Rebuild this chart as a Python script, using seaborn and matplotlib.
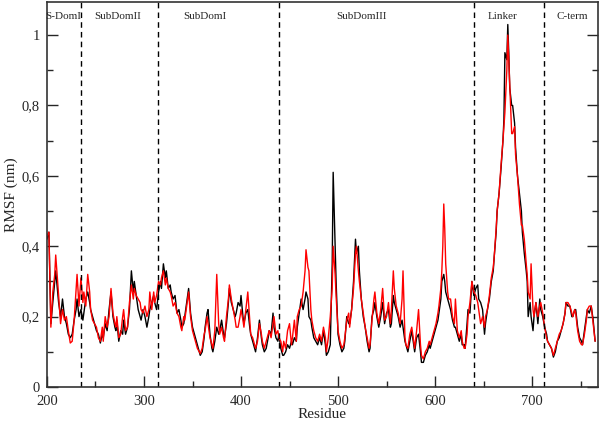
import numpy as np
import pandas as pd
import seaborn as sns
import matplotlib.pyplot as plt
from matplotlib.ticker import MultipleLocator

# --------------------------------------------------------------
# Data (residue, RMSF of both runs in nm)
# --------------------------------------------------------------
residue = [
    200, 202, 204, 206, 208, 209, 211, 212, 214, 216, 218, 220, 222, 224, 226, 228, 230, 231, 233, 235,
    237, 238, 240, 242, 244, 245, 247, 249, 251, 253, 255, 257, 258, 260, 262, 264, 266, 268, 270, 271,
    272, 274, 276, 278, 279, 281, 283, 285, 287, 289, 290, 292, 294, 296, 297, 299, 301, 303, 305, 306,
    308, 310, 311, 313, 315, 317, 318, 320, 322, 323, 325, 327, 328, 330, 332, 334, 336, 338, 339, 341,
    342, 344, 346, 348, 350, 351, 353, 355, 357, 358, 360, 362, 363, 365, 366, 368, 370, 371, 373, 375,
    377, 378, 380, 382, 383, 385, 387, 388, 390, 392, 394, 395, 397, 399, 400, 402, 403, 405, 407, 409,
    410, 412, 414, 415, 417, 419, 421, 422, 424, 426, 428, 429, 431, 433, 434, 436, 438, 439, 441, 443,
    444, 446, 448, 450, 452, 453, 455, 457, 458, 460, 462, 464, 466, 467, 469, 470, 472, 473, 475, 477,
    479, 481, 483, 485, 487, 488, 490, 492, 494, 495, 497, 498, 500, 502, 504, 506, 507, 509, 511, 512,
    514, 516, 518, 519, 521, 522, 524, 526, 528, 530, 532, 533, 535, 537, 538, 540, 542, 544, 546, 548,
    550, 552, 554, 555, 557, 558, 560, 562, 564, 566, 567, 569, 570, 572, 574, 576, 578, 579, 581, 583,
    585, 586, 588, 590, 592, 594, 595, 597, 599, 601, 603, 604, 606, 607, 608, 609, 610, 611, 613, 614,
    616, 618, 620, 621, 623, 625, 627, 628, 630, 631, 633, 634, 636, 638, 640, 642, 644, 645, 647, 649,
    651, 652, 654, 656, 658, 660, 661, 663, 664, 666, 668, 670, 671, 672, 674, 675, 676, 677, 679, 680,
    682, 683, 685, 687, 689, 690, 692, 694, 695, 696, 698, 699, 701, 702, 704, 706, 708, 709, 711, 713,
    715, 716, 718, 720, 722, 724, 726, 728, 730, 732, 734, 735, 737, 739, 741, 742, 744, 745, 747, 749,
    751, 752, 754, 756, 757, 759, 761, 763, 765,
]

rmsf_black = [
    0.42, 0.44, 0.18, 0.24, 0.30, 0.33, 0.27, 0.24, 0.20, 0.25, 0.20, 0.18, 0.15, 0.14, 0.15, 0.19, 0.22, 0.25, 0.20, 0.22,
    0.19, 0.21, 0.25, 0.27, 0.24, 0.22, 0.20, 0.18, 0.16, 0.15, 0.125, 0.15, 0.14, 0.18, 0.16, 0.22, 0.27, 0.20, 0.17, 0.16,
    0.19, 0.13, 0.16, 0.15, 0.19, 0.15, 0.17, 0.22, 0.33, 0.27, 0.30, 0.26, 0.22, 0.20, 0.19, 0.22, 0.20, 0.17, 0.20, 0.22,
    0.24, 0.26, 0.24, 0.22, 0.27, 0.30, 0.28, 0.35, 0.31, 0.33, 0.28, 0.29, 0.27, 0.25, 0.26, 0.21, 0.22, 0.19, 0.17, 0.18,
    0.20, 0.24, 0.28, 0.21, 0.17, 0.16, 0.14, 0.12, 0.10, 0.09, 0.10, 0.14, 0.17, 0.21, 0.22, 0.15, 0.11, 0.10, 0.13, 0.17,
    0.15, 0.16, 0.19, 0.15, 0.14, 0.18, 0.24, 0.28, 0.24, 0.22, 0.20, 0.21, 0.24, 0.23, 0.26, 0.20, 0.18, 0.21, 0.22, 0.17,
    0.15, 0.13, 0.11, 0.10, 0.14, 0.19, 0.14, 0.12, 0.10, 0.11, 0.14, 0.16, 0.15, 0.21, 0.17, 0.14, 0.13, 0.15, 0.11, 0.09,
    0.09, 0.10, 0.12, 0.11, 0.13, 0.12, 0.14, 0.13, 0.17, 0.21, 0.25, 0.22, 0.25, 0.27, 0.25, 0.20, 0.19, 0.17, 0.14, 0.13,
    0.12, 0.14, 0.12, 0.16, 0.12, 0.09, 0.10, 0.12, 0.35, 0.61, 0.40, 0.30, 0.15, 0.12, 0.10, 0.11, 0.13, 0.20, 0.18, 0.18,
    0.22, 0.30, 0.42, 0.38, 0.40, 0.33, 0.25, 0.20, 0.17, 0.13, 0.10, 0.11, 0.20, 0.22, 0.24, 0.20, 0.17, 0.20, 0.24, 0.18,
    0.21, 0.22, 0.17, 0.18, 0.26, 0.24, 0.22, 0.20, 0.17, 0.19, 0.17, 0.13, 0.12, 0.10, 0.13, 0.16, 0.12, 0.10, 0.14, 0.15,
    0.10, 0.07, 0.07, 0.09, 0.10, 0.12, 0.11, 0.13, 0.15, 0.17, 0.19, 0.21, 0.25, 0.30, 0.31, 0.32, 0.30, 0.27, 0.25, 0.24,
    0.22, 0.19, 0.17, 0.17, 0.15, 0.13, 0.15, 0.12, 0.12, 0.11, 0.18, 0.22, 0.21, 0.30, 0.26, 0.28, 0.29, 0.25, 0.24, 0.22,
    0.15, 0.18, 0.22, 0.25, 0.30, 0.33, 0.37, 0.44, 0.50, 0.55, 0.62, 0.70, 0.76, 0.95, 0.93, 1.03, 0.95, 0.85, 0.80, 0.80,
    0.75, 0.68, 0.60, 0.55, 0.50, 0.44, 0.38, 0.33, 0.30, 0.20, 0.24, 0.20, 0.16, 0.20, 0.24, 0.18, 0.25, 0.22, 0.20, 0.17,
    0.15, 0.13, 0.12, 0.11, 0.085, 0.10, 0.13, 0.14, 0.16, 0.18, 0.21, 0.24, 0.23, 0.23, 0.20, 0.20, 0.22, 0.22, 0.17, 0.14,
    0.13, 0.12, 0.16, 0.20, 0.22, 0.21, 0.23, 0.19, 0.13,
]

rmsf_red = [
    0.43, 0.44, 0.17, 0.27, 0.32, 0.375, 0.30, 0.26, 0.18, 0.22, 0.19, 0.20, 0.16, 0.125, 0.13, 0.19, 0.28, 0.32, 0.23, 0.31,
    0.24, 0.27, 0.23, 0.32, 0.27, 0.22, 0.19, 0.18, 0.17, 0.14, 0.13, 0.17, 0.13, 0.20, 0.17, 0.20, 0.28, 0.21, 0.18, 0.17,
    0.20, 0.14, 0.15, 0.20, 0.22, 0.16, 0.17, 0.24, 0.29, 0.25, 0.28, 0.26, 0.25, 0.24, 0.22, 0.21, 0.23, 0.20, 0.22, 0.27,
    0.22, 0.27, 0.24, 0.26, 0.30, 0.29, 0.31, 0.33, 0.29, 0.31, 0.28, 0.27, 0.26, 0.23, 0.24, 0.21, 0.20, 0.17, 0.16, 0.20,
    0.19, 0.23, 0.27, 0.20, 0.16, 0.15, 0.13, 0.11, 0.10, 0.095, 0.11, 0.15, 0.16, 0.20, 0.18, 0.14, 0.12, 0.11, 0.16, 0.32,
    0.18, 0.15, 0.17, 0.14, 0.13, 0.20, 0.25, 0.29, 0.25, 0.22, 0.19, 0.17, 0.17, 0.20, 0.22, 0.19, 0.17, 0.22, 0.27, 0.19,
    0.15, 0.14, 0.12, 0.11, 0.13, 0.18, 0.15, 0.13, 0.11, 0.13, 0.15, 0.16, 0.14, 0.18, 0.20, 0.15, 0.16, 0.14, 0.13, 0.10,
    0.13, 0.11, 0.16, 0.18, 0.12, 0.14, 0.19, 0.13, 0.20, 0.22, 0.23, 0.27, 0.33, 0.39, 0.34, 0.33, 0.22, 0.19, 0.16, 0.14,
    0.13, 0.15, 0.13, 0.17, 0.14, 0.10, 0.14, 0.20, 0.28, 0.40, 0.32, 0.26, 0.16, 0.13, 0.11, 0.12, 0.14, 0.19, 0.21, 0.17,
    0.22, 0.28, 0.38, 0.40, 0.33, 0.30, 0.25, 0.21, 0.17, 0.14, 0.11, 0.12, 0.19, 0.25, 0.27, 0.21, 0.18, 0.22, 0.28, 0.19,
    0.20, 0.24, 0.18, 0.22, 0.33, 0.28, 0.23, 0.21, 0.18, 0.25, 0.33, 0.14, 0.12, 0.11, 0.15, 0.17, 0.13, 0.11, 0.16, 0.22,
    0.12, 0.09, 0.08, 0.10, 0.11, 0.13, 0.12, 0.14, 0.16, 0.18, 0.21, 0.23, 0.28, 0.33, 0.40, 0.52, 0.45, 0.35, 0.27, 0.25,
    0.25, 0.20, 0.18, 0.25, 0.16, 0.14, 0.16, 0.13, 0.11, 0.11, 0.15, 0.20, 0.24, 0.30, 0.27, 0.26, 0.24, 0.22, 0.18, 0.20,
    0.17, 0.20, 0.22, 0.26, 0.31, 0.34, 0.37, 0.45, 0.50, 0.55, 0.63, 0.70, 0.74, 0.78, 0.90, 1.00, 0.93, 0.86, 0.72, 0.72,
    0.74, 0.66, 0.60, 0.52, 0.46, 0.46, 0.42, 0.35, 0.32, 0.27, 0.25, 0.35, 0.22, 0.20, 0.24, 0.20, 0.23, 0.24, 0.21, 0.17,
    0.14, 0.13, 0.12, 0.11, 0.09, 0.11, 0.13, 0.15, 0.16, 0.18, 0.21, 0.24, 0.24, 0.23, 0.21, 0.20, 0.22, 0.21, 0.16, 0.13,
    0.12, 0.12, 0.15, 0.19, 0.22, 0.23, 0.23, 0.18, 0.13,
]

# domain boundaries (dashed lines) and region labels
boundaries = [235, 314, 439, 640, 712]
region_names = ["S-DomI", "SubDomII", "SubDomI", "SubDomIII", "Linker", "C-term"]
region_centres = [217, 273, 363, 524, 670, 741]

y_ticks = [0, 0.2, 0.4, 0.6, 0.8, 1.0]
y_tick_labels = ["0", "0,2", "0,4", "0,6", "0,8", "1"]
x_ticks = [200, 300, 400, 500, 600, 700]

# --------------------------------------------------------------
# Plot
# --------------------------------------------------------------
sns.set_style("ticks")
plt.rcParams['font.family'] = ['Liberation Serif', 'DejaVu Serif']

df = pd.DataFrame({
    "Residue": residue * 2,
    "RMSF": rmsf_black + rmsf_red,
    "run": ["black"] * len(residue) + ["red"] * len(residue),
})

fig = plt.figure(figsize=(6, 4.23), dpi=100)
ax = fig.add_axes([0.0783, 0.0851, 0.9184, 0.9102])

sns.lineplot(data=df, x="Residue", y="RMSF", hue="run", hue_order=["black", "red"],
             palette={"black": "black", "red": "#ff0000"}, estimator=None, sort=False,
             linewidth=1.0, legend=False, ax=ax)

for b in boundaries:
    ax.axvline(b, color="black", linestyle=(0, (4, 3)), linewidth=1.0)

for name, c in zip(region_names, region_centres):
    ax.text(c, 1.054, name, ha="center", va="center", fontsize=8)

ax.set_xlim(200, 768)
ax.set_ylim(0, 1.094)
ax.set_xticks(x_ticks)
ax.set_yticks(y_ticks)
ax.set_yticklabels(y_tick_labels)
ax.xaxis.set_minor_locator(MultipleLocator(50))
ax.yaxis.set_minor_locator(MultipleLocator(0.1))
ax.tick_params(which="both", direction="in", right=True, top=False, labelsize=10.5, width=1.0)
ax.tick_params(which="major", length=8)
ax.tick_params(axis="x", which="major", pad=6)
ax.tick_params(axis="y", which="major", pad=5)
ax.tick_params(which="minor", length=4.5)

ax.set_xlabel("Residue", fontsize=11, labelpad=0)
ax.set_ylabel("RMSF (nm)", fontsize=11, labelpad=3)

for s in ax.spines.values():
    s.set_linewidth(1.2)
    s.set_color("#333333")

fig.savefig("out.png", dpi=100)
